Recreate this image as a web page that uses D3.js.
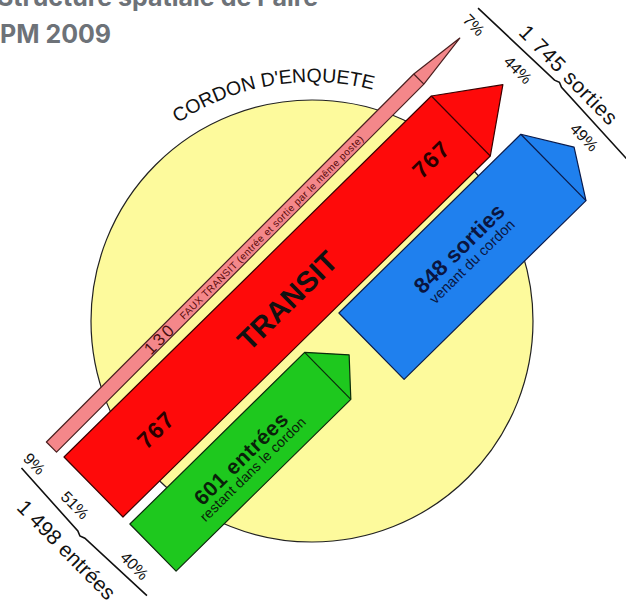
<!DOCTYPE html>
<html lang="fr">
<head>
<meta charset="UTF-8">
<title>Cordon d'enquête - flux HPM 2009</title>
<script src="https://d3js.org/d3.v7.min.js"></script>
<style>
  body { margin: 0; background: #fff; }
  svg { display: block; font-family: "Liberation Sans", Arial, sans-serif; }
  .title { font-family: Inter, "Noto Sans", sans-serif; font-weight: 700; fill: #6d7278; font-size: 25px; }
</style>
</head>
<body>
<svg id="chart" width="626" height="603"></svg>
<script>
// flux au cordon (véhicules)
const flowNames = ["faux transit", "transit", "entrées", "sorties"];
const flowValues = [130, 767, 601, 848];
const entreeLabels = ["9%", "51%", "40%"];   // faux transit, transit, entrées
const sortieLabels = ["7%", "44%", "49%"];   // faux transit, transit, sorties
const entreeTotal = "1 498 entrées";
const sortieTotal = "1 745 sorties";

const width = 626, height = 603;
const angle = -44.5;          // inclinaison des flèches
const origin = [64, 457];     // coin de la base de la flèche transit
const circ = { cx: 312, cy: 321, r: 221 };

// épaisseur des flèches proportionnelle au flux
const w = d3.scaleLinear().domain([0, 848]).range([0, 93]);

// u = le long des flèches, v = en travers
const lanes = [
  { v0: -23, u0: -2,  u1: 518, u2: 576, tilt: -0.55, fill: "#f4878a", stroke: "#4a1f1f" },
  { v0: 0,   u0: 0,   u1: 515, u2: 574, tilt: 0, fill: "#fe0a0a", stroke: "#3a0000" },
  { v0: 94,  u0: 0,   u1: 245, u2: 275, tilt: 0, fill: "#1ec81e", stroke: "#0b2a0b" },
  { v0: 90,  u0: 297, u1: 552, u2: 581, tilt: 0, fill: "#1f80ee", stroke: "#0a1a4a" }
];

const svg = d3.select("#chart");

// titre (coupé par le cadre)
svg.append("text").attr("class", "title").attr("x", -3).attr("y", 6).text("Structure spatiale de l'aire");
svg.append("text").attr("class", "title").attr("x", 0).attr("y", 43).text("PM 2009");

// le cordon
svg.append("circle")
  .attr("cx", circ.cx).attr("cy", circ.cy).attr("r", circ.r)
  .attr("fill", "#fdfa9c").attr("stroke", "#222").attr("stroke-width", 1.2);

const arcR = circ.r + 18, arcMid = -9.7 * Math.PI / 180, arcHalf = 70 * Math.PI / 180;
const onArc = a => [circ.cx + arcR * Math.sin(a), circ.cy - arcR * Math.cos(a)];
const p1 = onArc(arcMid - arcHalf), p2 = onArc(arcMid + arcHalf);
svg.append("path").attr("id", "cordonArc").attr("fill", "none")
  .attr("d", `M${p1[0]},${p1[1]} A${arcR},${arcR} 0 0 1 ${p2[0]},${p2[1]}`);
svg.append("text").style("font-size", "19.5px").attr("fill", "#111")
  .append("textPath").attr("href", "#cordonArc").attr("startOffset", "50%")
  .attr("text-anchor", "middle").text("CORDON D'ENQUETE");

const g = svg.append("g").attr("transform", `translate(${origin}) rotate(${angle})`);

const arrows = flowValues.map((v, i) => Object.assign({ name: flowNames[i], value: v, h: w(v) }, lanes[i]));
arrows.forEach(d => { d.mid = d.v0 + d.h / 2; });

// chaque flèche dans son propre groupe (légère inclinaison possible)
const ag = g.selectAll("g.flow").data(arrows).join("g")
  .attr("class", "flow")
  .attr("transform", d => `rotate(${d.tilt},${d.u0},${d.mid})`);

ag.append("path")
  .attr("d", d => `M${d.u0},${d.v0} L${d.u1},${d.v0} L${d.u2},${d.mid} L${d.u1},${d.v0 + d.h} L${d.u0},${d.v0 + d.h} Z`)
  .attr("fill", d => d.fill).attr("stroke", d => d.stroke).attr("stroke-width", 1.2)
  .attr("stroke-linejoin", "round");

ag.append("line")
  .attr("x1", d => d.u1).attr("y1", d => d.v0)
  .attr("x2", d => d.u1).attr("y2", d => d.v0 + d.h)
  .attr("stroke", d => d.stroke).attr("stroke-width", 1.2);

const [pink, red, green, blue] = arrows;
const pinkG = d3.select(ag.nodes()[0]);

function label(parent, u, v, txt, size, opts = {}) {
  const t = parent.append("text")
    .attr("transform", `translate(${u},${v})` + (opts.rot ? ` rotate(${opts.rot})` : ""))
    .attr("text-anchor", "middle").attr("dominant-baseline", "central")
    .style("font-size", size + "px")
    .attr("fill", opts.fill || "#111")
    .style("font-weight", opts.bold ? 700 : 400)
    .text(txt);
  if (opts.len) t.attr("textLength", opts.len).attr("lengthAdjust", "spacing");
  return t;
}

// faux transit
label(pinkG, 150, pink.mid + 0.5, pink.value, 17, { fill: "#4a1010", len: 34 });
label(pinkG, 309, pink.mid + 0.5, "FAUX TRANSIT (entrée et sortie par le même poste)", 10, { fill: "#5a0a0a", len: 255 });

// transit
label(g, 84, red.mid + 3, red.value, 23, { bold: true, fill: "#2a0000", len: 41 });
label(g, 470, red.mid + 3, red.value, 23, { bold: true, fill: "#2a0000", len: 41 });
label(g, 269, red.mid + 3, "TRANSIT", 29, { bold: true, fill: "#111", len: 127 });

// entrées / sorties restant dans le cordon
label(g, 125, green.mid - 2, `${green.value} entrées`, 21, { bold: true, fill: "#0a200a", len: 122 });
label(g, 126, green.mid + 14, "restant dans le cordon", 14, { fill: "#0a200a", len: 142 });
label(g, 428, blue.mid - 8, `${blue.value} sorties`, 22, { bold: true, fill: "#0a1540", len: 117 });
label(g, 428, blue.mid + 10, "venant du cordon", 14.5, { fill: "#0a1540", len: 113 });

// pourcentages côté entrées
[pink, red, green].forEach((d, i) => label(g, -26, d.mid, entreeLabels[i], 16, { rot: 90 }));
// pourcentages côté sorties
[pink, red, blue].forEach((d, i) => label(g, 595, d.mid + (i === 0 ? -5 : 0), sortieLabels[i], 16, { rot: 90 }));

// accolades
const brace = d3.line();
function drawBrace(u, v1, v2, dir) {
  const vm = (v1 + v2) / 2;
  g.append("path")
    .attr("d", brace([[u, v1], [u + dir * 4, vm - 5], [u + dir * 6, vm], [u + dir * 4, vm + 5], [u, v2]]))
    .attr("fill", "none").attr("stroke", "#111").attr("stroke-width", 1.6);
}
drawBrace(-38, -22, 157, -1);
drawBrace(610, -30, 190, 1);

label(g, -63, 68, entreeTotal, 21, { rot: 90, len: 130 });
label(g, 628, 81, sortieTotal, 21, { rot: 90, len: 130 });
</script>
</body>
</html>
